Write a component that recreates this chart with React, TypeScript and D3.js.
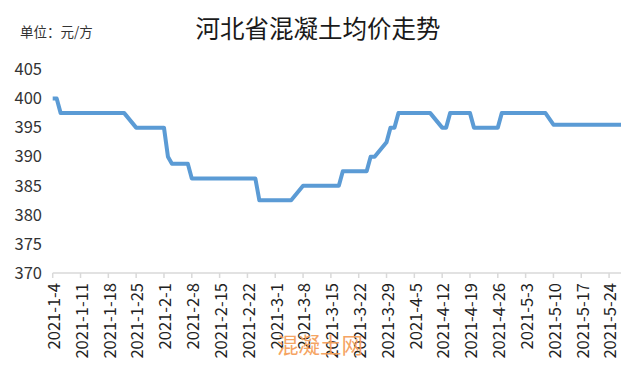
import React from "react";
import * as d3 from "d3";

const title = "河北省混凝土均价走势";
const unitLabel = "单位：元/方";
const watermark = "混凝土网";

// vertices of the price series (date, price in 元/方)
const dates = [
  "2021-01-04", "2021-01-05", "2021-01-06", "2021-01-22", "2021-01-25",
  "2021-02-01", "2021-02-02", "2021-02-03", "2021-02-07", "2021-02-08",
  "2021-02-24", "2021-02-25", "2021-03-05", "2021-03-08", "2021-03-17",
  "2021-03-18", "2021-03-24", "2021-03-25", "2021-03-26", "2021-03-29",
  "2021-03-30", "2021-03-31", "2021-04-01", "2021-04-09", "2021-04-12",
  "2021-04-13", "2021-04-14", "2021-04-19", "2021-04-20", "2021-04-26",
  "2021-04-27", "2021-05-08", "2021-05-10", "2021-05-27",
];
const prices = [
  400, 400, 397.5, 397.5, 395,
  395, 390, 388.8, 388.8, 386.25,
  386.25, 382.5, 382.5, 385, 385,
  387.5, 387.5, 390, 390, 392.5,
  395, 395, 397.5, 397.5, 395,
  395, 397.5, 397.5, 395, 395,
  397.5, 397.5, 395.5, 395.5,
];

const yTicks = [370, 375, 380, 385, 390, 395, 400, 405];
const xTickDates = [
  "2021-01-04", "2021-01-11", "2021-01-18", "2021-01-25", "2021-02-01",
  "2021-02-08", "2021-02-15", "2021-02-22", "2021-03-01", "2021-03-08",
  "2021-03-15", "2021-03-22", "2021-03-29", "2021-04-05", "2021-04-12",
  "2021-04-19", "2021-04-26", "2021-05-03", "2021-05-10", "2021-05-17",
  "2021-05-24",
];
const axisStart = "2021-01-04";
const axisEnd = "2021-05-27";

const parse = d3.timeParse("%Y-%m-%d");
const fmt = (d: Date) => `${d.getFullYear()}-${d.getMonth() + 1}-${d.getDate()}`;

const FONT = "'Noto Sans CJK SC', 'Microsoft YaHei', sans-serif";

export default function App() {
  const W = 640;
  const H = 384;
  const x = d3
    .scaleTime()
    .domain([parse(axisStart)!, parse(axisEnd)!])
    .range([52.7, 621]);
  const y = d3.scaleLinear().domain([370, 405]).range([273, 69.5]);

  const data = dates.map((d, i) => ({ date: parse(d)!, value: prices[i] }));
  const line = d3
    .line<{ date: Date; value: number }>()
    .x((d) => x(d.date))
    .y((d) => y(d.value));

  const y0 = y(370);
  const [xs, xe] = x.range();

  return (
    <div style={{ position: "absolute", left: 0, top: 0 }}>
      <svg width={W} height={H} style={{ display: "block", background: "#fff" }}>
        <rect x={0} y={0} width={W} height={H} fill="#fff" />
        <text x={20} y={37} fontFamily={FONT} fontSize={13.5} fill="#333">
          {unitLabel}
        </text>
        <text
          x={318}
          y={38}
          textAnchor="middle"
          fontFamily={FONT}
          fontSize={24.5}
          fill="#1a1a1a"
        >
          {title}
        </text>

        {yTicks.map((t) => (
          <text
            key={t}
            x={42}
            y={y(t)}
            dy="0.35em"
            textAnchor="end"
            fontFamily={FONT}
            fontSize={16.5}
            fill="#333"
          >
            {t}
          </text>
        ))}

        <line x1={xs} x2={xe} y1={y0} y2={y0} stroke="#d9d9d9" strokeWidth={1.5} />
        {xTickDates.map((d) => {
          const px = x(parse(d)!);
          return (
            <g key={d}>
              <line x1={px} x2={px} y1={y0} y2={y0 + 5} stroke="#d9d9d9" strokeWidth={1.5} />
              <text
                transform={`translate(${px + 1.5},283) rotate(-90)`}
                dy="0.35em"
                textAnchor="end"
                fontFamily={FONT}
                fontSize={16.5}
                fill="#222"
              >
                {fmt(parse(d)!)}
              </text>
            </g>
          );
        })}

        <path
          d={line(data) || ""}
          fill="none"
          stroke="#5B9BD5"
          strokeWidth={4}
          strokeLinejoin="round"
          strokeLinecap="butt"
        />

        <text
          x={277}
          y={353}
          fontFamily={FONT}
          fontSize={21.5}
          fill="#F5A05A"
          opacity={0.95}
        >
          {watermark}
        </text>
      </svg>
    </div>
  );
}
